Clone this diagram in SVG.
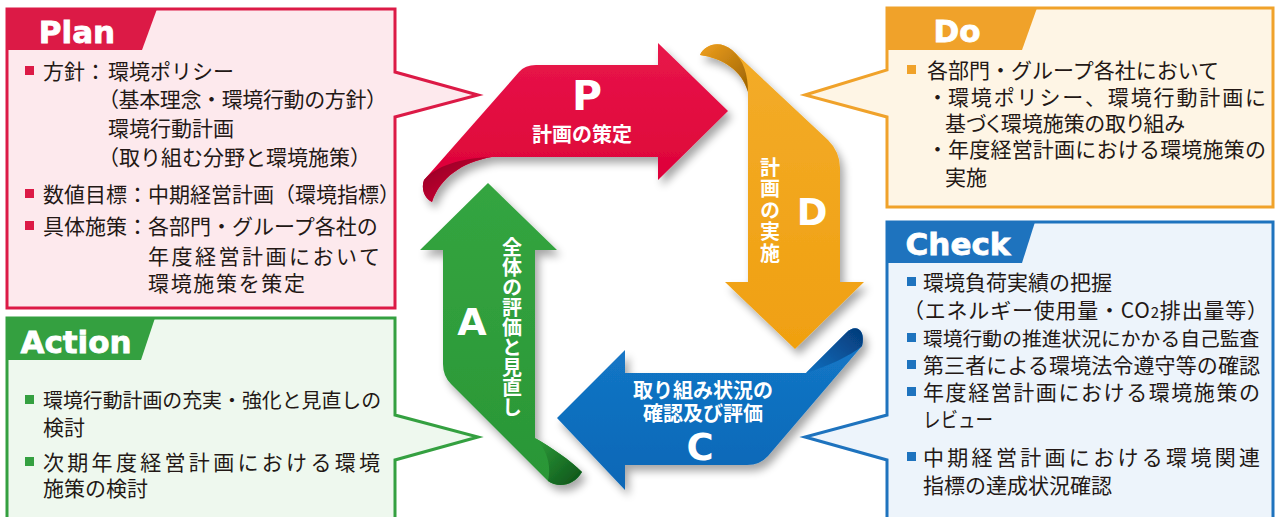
<svg xmlns="http://www.w3.org/2000/svg" width="1277" height="517" viewBox="0 0 1277 517">
<style>
.t{font-family:"Noto Sans CJK JP","Noto Sans CJK SC",sans-serif;font-size:21px;fill:#231815}
.w{font-family:"Noto Sans CJK JP","Noto Sans CJK SC",sans-serif;font-size:20px;font-weight:700;fill:#fff;text-anchor:middle}
.v{writing-mode:vertical-rl}
.big{font-family:"DejaVu Sans","Liberation Sans",sans-serif;font-weight:700;fill:#fff;text-anchor:middle}
.hd{font-family:"DejaVu Sans","Liberation Sans",sans-serif;font-weight:700;font-size:31px;fill:#fff;stroke:#fff;stroke-width:0.8px;text-anchor:middle}
.box{stroke-width:3;stroke-linejoin:miter}
</style>
<defs>
<filter id="sh" x="-20%" y="-20%" width="150%" height="150%">
<feGaussianBlur in="SourceAlpha" stdDeviation="4"/>
<feOffset dx="4" dy="6" result="o"/>
<feComponentTransfer><feFuncA type="linear" slope="0.35"/></feComponentTransfer>
<feMerge><feMergeNode/><feMergeNode in="SourceGraphic"/></feMerge>
</filter>
<linearGradient id="gR" x1="0" y1="0" x2="0" y2="1"><stop offset="0" stop-color="#e8164a"/><stop offset="1" stop-color="#dc0036"/></linearGradient>
<linearGradient id="gRc" x1="0" y1="0" x2="1" y2="1"><stop offset="0" stop-color="#8c0022"/><stop offset="1" stop-color="#e2063b"/></linearGradient>
<linearGradient id="gO" x1="0" y1="0" x2="0" y2="1"><stop offset="0" stop-color="#f3ac2a"/><stop offset="1" stop-color="#f0a010"/></linearGradient>
<linearGradient id="gOc" x1="0" y1="0" x2="1" y2="1"><stop offset="0" stop-color="#f0a020"/><stop offset="1" stop-color="#9a6200"/></linearGradient>
<linearGradient id="gB" x1="0" y1="0" x2="0" y2="1"><stop offset="0" stop-color="#1478c8"/><stop offset="1" stop-color="#0b67b6"/></linearGradient>
<linearGradient id="gBc" x1="1" y1="0" x2="0" y2="1"><stop offset="0" stop-color="#053a78"/><stop offset="1" stop-color="#0d6fbf"/></linearGradient>
<linearGradient id="gG" x1="0" y1="0" x2="0" y2="1"><stop offset="0" stop-color="#34a540"/><stop offset="1" stop-color="#2a9636"/></linearGradient>
<linearGradient id="gGc" x1="0" y1="0" x2="1" y2="1"><stop offset="0" stop-color="#2f9e3a"/><stop offset="1" stop-color="#0b5018"/></linearGradient>
</defs>
<rect width="1277" height="517" fill="#fff"/>

<g id="connectors">
 <g id="arrow-P" filter="url(#sh)">
  <path d="M536,65 L658,65 L658,43 L728,111 L658,180 L658,157 L492,157 C462,162 440,178 432,202 C424,198 421,188 424,180 L519,72 Q525,65 536,65 Z" fill="url(#gR)"/>
  <path d="M424,180 C436,166 460,158 492,157 C462,162 440,178 432,202 C424,198 421,188 424,180 Z" fill="url(#gRc)"/>
 </g>
 <g id="arrow-D" filter="url(#sh)">
  <path d="M700,55 C705,44 720,40 732,50 L828,140 Q840,152 840,168 L840,282 L864,282 L795,349 L725,282 L748,282 L748,92 C742,70 722,58 700,55 Z" fill="url(#gO)"/>
  <path d="M700,55 C705,44 720,40 732,50 C744,60 748,75 748,92 C742,70 722,58 700,55 Z" fill="url(#gOc)"/>
 </g>
 <g id="arrow-C" filter="url(#sh)">
  <path d="M557,418 L625,350 L625,373 L806,373 L846,333 C856,323 866,330 862,346 L768,456 Q760,465 747,465 L625,465 L625,490 Z" fill="url(#gB)"/>
  <path d="M806,373 L846,333 C856,323 866,330 862,346 C850,356 828,366 806,373 Z" fill="url(#gBc)"/>
 </g>
 <g id="arrow-A" filter="url(#sh)">
  <path d="M488,183 L557,250 L535,250 L535,438 C552,448 570,460 582,472 C574,486 558,488 548,481 L451,384 Q443,376 443,364 L443,250 L420,250 Z" fill="url(#gG)"/>
  <path d="M535,438 C552,448 570,460 582,472 C574,486 558,488 548,481 C552,465 546,448 535,438 Z" fill="url(#gGc)"/>
 </g>
 <text class="big" x="587" y="110" font-size="41">P</text>
 <text class="w" x="582" y="142">計画の策定</text>
 <text class="big" x="812" y="225" font-size="37">D</text>
 <text class="w v" x="770" y="211" letter-spacing="1.5">計画の実施</text>
 <text class="big" x="700" y="460" font-size="37">C</text>
 <text class="w" x="703" y="398">取り組み状況の</text>
 <text class="w" x="703" y="421">確認及び評価</text>
 <text class="big" x="472" y="335" font-size="38">A</text>
 <text class="w v" x="512" y="327">全体の評価と見直し</text>
</g>

<g id="plan">
 <path class="box" d="M7,9 H395 V72 L478,95 L395,117 V308 H7 Z" fill="#fde9ed" stroke="#dc1a46"/>
 <polygon points="7,9 157,9 142,50 7,50" fill="#dc1a46"/>
 <text class="hd" x="77" y="43">Plan</text>
 <g fill="#dc1a46"><rect x="25" y="66" width="9" height="9"/><rect x="25" y="189" width="9" height="9"/><rect x="25" y="221" width="9" height="9"/></g>
 <text class="t" x="43" y="79">方針：</text>
 <text class="t" x="108" y="79">環境ポリシー</text>
 <text class="t" x="98" y="107" textLength="289" lengthAdjust="spacing">（基本理念・環境行動の方針）</text>
 <text class="t" x="108" y="136">環境行動計画</text>
 <text class="t" x="98" y="165">（取り組む分野と環境施策）</text>
 <text class="t" x="43" y="202">数値目標：中期経営計画（環境指標）</text>
 <text class="t" x="43" y="234">具体施策：各部門・グループ各社の</text>
 <text class="t" x="148" y="264" textLength="232" lengthAdjust="spacing">年度経営計画において</text>
 <text class="t" x="148" y="291" textLength="157" lengthAdjust="spacing">環境施策を策定</text>
</g>

<g id="do">
 <path class="box" d="M887,8 H1273 V207 H887 V117 L805,95 L887,70 Z" fill="#fef5e5" stroke="#f0a22a"/>
 <polygon points="887,8 1037,8 1022,50 887,50" fill="#f0a22a"/>
 <text class="hd" x="957" y="42">Do</text>
 <rect x="907" y="65" width="9" height="9" fill="#f0a22a"/>
 <text class="t" x="927" y="78">各部門・グループ各社において</text>
 <text class="t" x="927" y="105">・</text>
 <text class="t" x="948" y="105" textLength="318" lengthAdjust="spacing">環境ポリシー、環境行動計画に</text>
 <text class="t" x="945" y="131" style="font-feature-settings:'palt'">基づく環境施策の取り組み</text>
 <text class="t" x="927" y="157">・</text>
 <text class="t" x="948" y="157" textLength="318" lengthAdjust="spacing">年度経営計画における環境施策の</text>
 <text class="t" x="945" y="185">実施</text>
</g>

<g id="check">
 <path class="box" d="M887,222 H1273 V530 H887 V460 L805,437 L887,415 Z" fill="#edf4fb" stroke="#1e73be"/>
 <polygon points="887,222 1035,222 1022,263 887,263" fill="#1e73be"/>
 <text class="hd" x="958" y="255">Check</text>
 <g fill="#1e73be"><rect x="907" y="277" width="9" height="9"/><rect x="907" y="333" width="9" height="9"/><rect x="907" y="360" width="9" height="9"/><rect x="907" y="387" width="9" height="9"/><rect x="907" y="452" width="9" height="9"/></g>
 <text class="t" x="923" y="290">環境負荷実績の把握</text>
 <text class="t" x="903" y="318" textLength="365" lengthAdjust="spacing">（エネルギー使用量・CO<tspan style="font-size:15px">2</tspan>排出量等）</text>
 <text class="t" x="923" y="346" style="font-size:19.8px">環境行動の推進状況にかかる自己監査</text>
 <text class="t" x="923" y="373" textLength="337" lengthAdjust="spacing">第三者による環境法令遵守等の確認</text>
 <text class="t" x="923" y="400" textLength="337" lengthAdjust="spacing">年度経営計画における環境施策の</text>
 <text class="t" x="923" y="427" textLength="70" lengthAdjust="spacingAndGlyphs">レビュー</text>
 <text class="t" x="923" y="465" textLength="337" lengthAdjust="spacing">中期経営計画における環境関連</text>
 <text class="t" x="923" y="493">指標の達成状況確認</text>
</g>

<g id="action">
 <path class="box" d="M7,318 H395 V415 L478,437 L395,460 V530 H7 Z" fill="#eef8ee" stroke="#34a040"/>
 <polygon points="7,318 155,318 141,360 7,360" fill="#34a040"/>
 <text class="hd" x="76" y="353">Action</text>
 <g fill="#34a040"><rect x="25" y="395" width="9" height="9"/><rect x="25" y="457" width="9" height="9"/></g>
 <text class="t" x="43" y="408" style="font-size:19.9px">環境行動計画の充実・強化と見直しの</text>
 <text class="t" x="43" y="435">検討</text>
 <text class="t" x="43" y="470" textLength="337" lengthAdjust="spacing">次期年度経営計画における環境</text>
 <text class="t" x="43" y="496">施策の検討</text>
</g>
</svg>
